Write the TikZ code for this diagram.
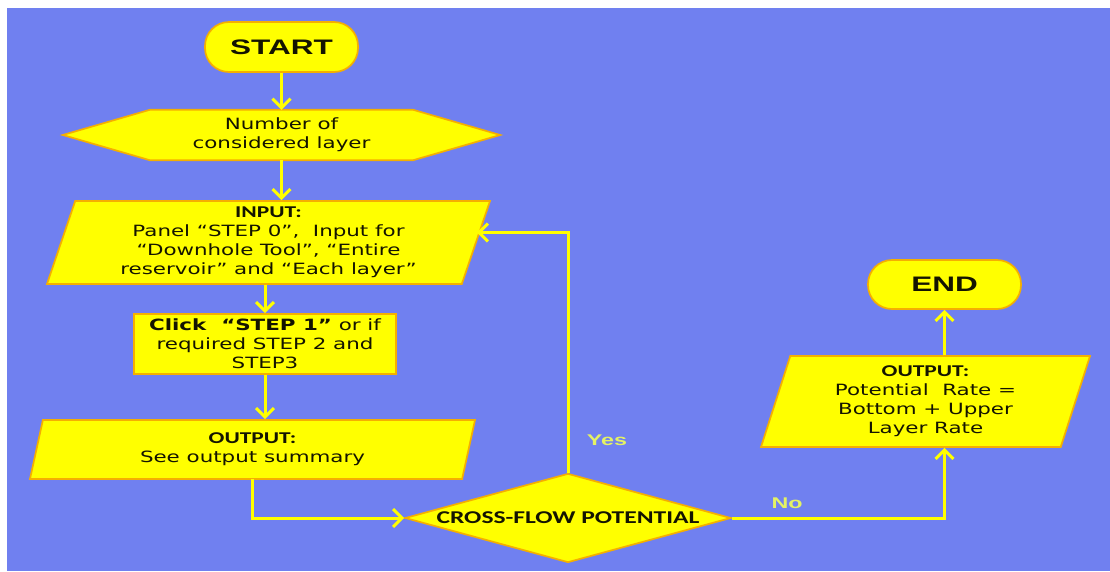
\documentclass[tikz,border=0pt]{standalone}
\usepackage{fontspec}
\usetikzlibrary{shapes.geometric,arrows.meta,calc}
\newfontfamily\vfont{DejaVu Sans}[FakeStretch=1.38]
\newfontfamily\cfont{Carlito}[FakeStretch=1.42]
\newfontfamily\afont{Liberation Sans}[FakeStretch=1.5]
\newcommand\hdrfont{\cfont\bfseries\fontsize{16.5}{19}\selectfont}
\definecolor{bgblue}{RGB}{112,128,240}
\definecolor{yel}{RGB}{255,255,0}
\definecolor{bord}{RGB}{245,175,0}
\definecolor{lbl}{RGB}{228,242,100}
\definecolor{txt}{RGB}{20,20,0}
\pgfdeclarelayer{bg}
\pgfsetlayers{bg,main}
\tikzset{
  box/.style={fill=yel, draw=bord, line width=1.7pt},
  shp/.style={box, inner sep=0pt, align=center, text=txt,
    font=\vfont\fontsize{15.5}{19}\selectfont},
  term/.style={shp, rectangle, rounded corners=24pt,
    font=\afont\bfseries\fontsize{21}{24}\selectfont},
  para/.style={shp, trapezium, trapezium stretches body=true},
  conn/.style={draw=yel, line width=3pt, line join=miter,
    -{Straight Barb[length=9pt,width=18pt]}},
  lblstyle/.style={text=lbl, inner sep=0pt,
    font=\afont\bfseries\fontsize{15.5}{18}\selectfont}
}
\begin{document}
\begin{tikzpicture}[x=1pt,y=-1pt]
\useasboundingbox (0,0) rectangle (1110,571);
\begin{pgfonlayer}{bg}
  \fill[white] (0,0) rectangle (1110,571);
  \fill[bgblue] (7,8) rectangle (1110,571);
\end{pgfonlayer}

% nodes
\node[term, minimum width=153pt, minimum height=50pt] (start) at (281.5,47) {START};

\node[inner sep=0pt, align=center, text=txt, minimum width=263pt, minimum height=50pt,
      font=\vfont\fontsize{15.5}{19}\selectfont] (hex) at (281.5,135) {Number of\\considered layer};
\begin{pgfonlayer}{bg}
  \path[box] (hex.north west) -- (hex.north east) -- ([xshift=87pt]hex.east)
    -- (hex.south east) -- (hex.south west) -- ([xshift=-87pt]hex.west) -- cycle;
\end{pgfonlayer}

\node[para, trapezium left angle=68.3, trapezium right angle=111.7,
      minimum width=443pt, minimum height=83pt] (inp) at (268.5,242.5)
  {{\hdrfont INPUT:}\\Panel “STEP 0”,\ \ Input\ for\\“Downhole Tool”, “Entire\\reservoir” and “Each layer”};

\node[shp, rectangle, minimum width=262pt, minimum height=60pt] (click) at (265,344)
  {{\bfseries Click\ \ “STEP 1”} or if\\required STEP 2 and\\STEP3};

\node[para, trapezium left angle=68.7, trapezium right angle=111.3,
      minimum width=445pt, minimum height=59pt] (out1) at (252.5,449.5)
  {{\hdrfont OUTPUT:}\\See output summary};

\node[box, diamond, aspect=3.66, minimum width=326pt, minimum height=89pt, inner sep=0pt,
      text=txt, font=\cfont\bfseries\fontsize{18}{20}\selectfont] (cf) at (568,518)
  {CROSS-FLOW POTENTIAL};

\node[para, trapezium left angle=67.6, trapezium right angle=112.4,
      minimum width=329pt, minimum height=91pt] (out2) at (925.5,401.5)
  {{\hdrfont OUTPUT:}\\Potential\ \ Rate =\\Bottom + Upper\\Layer Rate};

\node[term, minimum width=153pt, minimum height=49pt] (endn) at (944.5,284.5) {END};

\node[lblstyle] (yes) at (607,440) {Yes};
\node[lblstyle] (no) at (787,503) {No};

% connectors
\coordinate (o1s) at (252,479);
\draw[conn] (start) -- (hex);
\draw[conn] (hex.south) -- (hex.south |- inp.north);
\draw[conn] (click.north |- inp.south) -- (click.north);
\draw[conn] (click.south) -- (click.south |- out1.north);
\draw[conn] (o1s) |- (cf.west);
\draw[conn] (cf.north) |- ([yshift=10pt]inp.east);
\draw[conn] (cf.east) -| (endn |- out2.south);
\draw[conn] (endn |- out2.north) -- (endn.south);
\end{tikzpicture}
\end{document}
